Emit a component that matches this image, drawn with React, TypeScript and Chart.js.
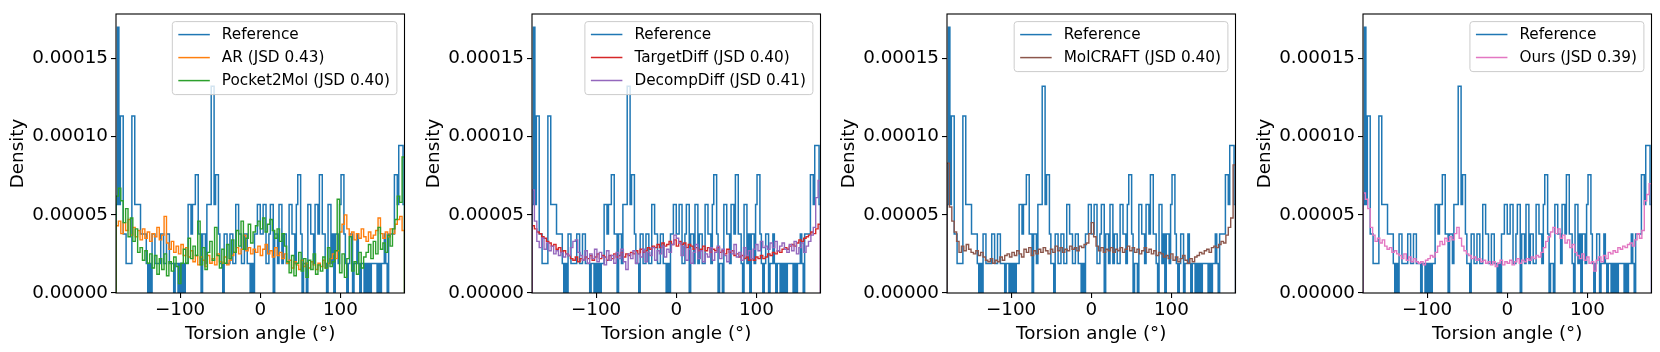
import React, { useEffect, useRef } from 'react';
import { Chart, registerables } from 'chart.js';

Chart.register(...registerables);

const FONT = "'DejaVu Sans', 'Liberation Sans', sans-serif";

// ---------- axes ----------
const xRange = [-180, 180];
const xTickValues = [-100, 0, 100];
const xTickLabels = ['\u2212100', '0', '100'];
// y values are stored in units of 1e-5 (density)
const yTickValues = [0, 5, 10, 15];
const yTickLabels = ['0.00000', '0.00005', '0.00010', '0.00015'];
const yMax = 17.85;
const xTitle = 'Torsion angle (\u00b0)';
const yTitle = 'Density';

// ---------- data (density x 1e-5) ----------
// Reference histogram, 200 bins over [-180, 180]
const referenceDensity = [
  5.67, 17.0, 5.67, 11.33, 11.33, 3.78, 3.78, 1.89, 1.89, 1.89,
  1.89, 11.33, 11.33, 5.67, 5.67, 5.67, 5.67, 3.78, 3.78, 3.78,
  3.78, 1.89, 0, 1.89, 0, 3.78, 3.78, 1.89, 1.89, 1.89,
  1.89, 3.78, 3.78, 1.89, 1.89, 3.78, 3.78, 1.89, 1.89, 1.89,
  0, 1.89, 1.89, 0, 1.89, 0, 1.89, 0, 1.89, 1.89,
  5.67, 5.67, 3.78, 5.67, 5.67, 7.56, 7.56, 3.78, 3.78, 0,
  3.78, 3.78, 1.89, 5.67, 5.67, 5.67, 13.22, 13.22, 5.67, 7.56,
  7.56, 3.78, 1.89, 1.89, 0, 3.78, 3.78, 1.89, 1.89, 3.78,
  3.78, 1.89, 1.89, 5.67, 5.67, 3.78, 3.78, 1.89, 1.89, 3.78,
  3.78, 1.89, 1.89, 0, 1.89, 0, 3.78, 3.78, 5.67, 5.67,
  3.78, 3.78, 5.67, 5.67, 1.89, 1.89, 3.78, 5.67, 5.67, 0,
  3.78, 3.78, 1.89, 5.67, 5.67, 1.89, 3.78, 3.78, 1.89, 1.89,
  5.67, 5.67, 3.78, 3.78, 1.89, 5.67, 7.56, 7.56, 3.78, 0,
  1.89, 1.89, 0, 5.67, 5.67, 3.78, 3.78, 1.89, 5.67, 5.67,
  3.78, 7.56, 7.56, 3.78, 3.78, 1.89, 0, 5.67, 5.67, 1.89,
  3.78, 0, 3.78, 3.78, 1.89, 5.67, 7.56, 7.56, 3.78, 1.89,
  0, 1.89, 3.78, 3.78, 0, 1.89, 1.89, 3.78, 1.89, 0,
  1.89, 1.89, 0, 1.89, 0, 1.89, 0, 1.89, 1.89, 1.89,
  1.89, 0, 1.89, 0, 1.89, 1.89, 3.78, 1.89, 0, 3.78,
  3.78, 3.78, 3.78, 7.56, 7.56, 5.67, 9.44, 9.44, 9.44, 5.67,
];

// Generated-molecule histograms, 120 bins over [-180, 180]
const arDensity = [
  4.3, 4.6, 3.8, 4.5, 4.0, 4.7, 3.7, 4.2, 3.6, 4.0,
  3.4, 4.1, 3.5, 3.9, 3.3, 3.8, 3.6, 4.2, 3.4, 3.7,
  4.9, 3.2, 2.8, 3.3, 2.6, 3.0, 2.5, 3.1, 2.4, 2.9,
  2.3, 2.7, 2.0, 2.4, 1.8, 2.3, 2.1, 1.7, 2.4, 1.9,
  2.2, 1.8, 2.5, 2.0, 1.9, 2.3, 1.8, 2.1, 2.4, 2.6,
  2.9, 2.5, 2.8, 3.7, 2.7, 2.9, 2.5, 2.8, 2.6, 3.0,
  2.4, 2.8, 3.1, 2.5, 2.7, 2.3, 2.9, 2.4, 2.6, 2.2,
  2.5, 1.9, 2.1, 1.6, 2.0, 1.8, 1.5, 2.1, 1.7, 1.9,
  1.6, 2.0, 1.8, 1.5, 1.9, 1.7, 2.1, 1.6, 1.9, 2.2,
  2.5, 2.2, 2.7, 3.9, 4.4, 5.0, 4.1, 3.7, 3.9, 3.4,
  3.8, 3.5, 4.1, 3.6, 3.3, 3.9, 3.5, 3.7, 4.0, 4.8,
  3.8, 3.5, 3.9, 3.6, 4.1, 3.8, 4.4, 4.7, 4.9, 4.0,
];

const pocket2molDensity = [
  6.2, 6.7, 5.9, 4.5, 5.4, 3.6, 4.8, 3.3, 4.1, 2.6,
  2.9, 2.1, 2.7, 1.9, 2.5, 1.6, 2.4, 1.2, 2.2, 1.5,
  2.5, 1.1, 2.0, 1.4, 2.3, 1.7, 0.6, 1.9, 2.8, 1.9,
  3.5, 2.2, 3.0, 2.4, 4.6, 1.8, 2.9, 1.5, 2.6, 3.3,
  2.1, 4.2, 2.4, 1.6, 2.8, 1.9, 3.1, 2.2, 3.4, 2.6,
  4.0, 3.0, 4.6, 2.8, 3.5, 4.4, 3.2, 3.9, 4.3, 4.6,
  4.1, 4.8, 3.9, 4.4, 4.7, 4.0, 3.5, 4.1, 3.3, 3.8,
  3.0, 2.0, 1.3, 2.4, 1.1, 1.9, 2.6, 1.4, 2.2, 1.0,
  2.1, 1.5, 2.5, 1.2, 1.8, 1.4, 2.3, 1.6, 2.9, 1.7,
  2.0, 2.7, 6.0, 1.3, 2.5, 1.0, 2.2, 3.6, 1.4, 2.0,
  1.2, 2.6, 1.6, 2.3, 2.6, 3.1, 2.2, 3.3, 2.5, 4.2,
  2.8, 3.2, 2.6, 3.7, 3.0, 4.1, 4.7, 6.2, 5.8, 8.7,
];

const targetDiffDensity = [
  4.3, 4.1, 3.9, 3.8, 3.6, 3.5, 3.3, 3.2, 3.0, 3.1,
  2.8, 2.9, 2.6, 2.7, 2.5, 2.4, 2.2, 2.1, 2.3, 2.0,
  2.2, 2.1, 2.3, 2.2, 2.4, 2.1, 2.3, 2.5, 2.2, 2.4,
  2.3, 2.1, 2.4, 2.2, 2.5, 2.3, 2.4, 2.6, 2.3, 2.5,
  2.4, 2.6, 2.5, 2.7, 2.5, 2.8, 2.6, 2.7, 2.9, 2.8,
  3.0, 2.9, 3.1, 2.9, 3.2, 3.0, 3.1, 3.3, 3.1, 3.4,
  3.0, 3.3, 3.1, 3.2, 2.9, 3.1, 3.0, 2.8, 2.9, 2.7,
  2.8, 3.0, 2.7, 2.9, 2.6, 2.8, 2.7, 2.9, 2.6, 2.7,
  2.5, 2.8, 2.6, 2.7, 2.4, 2.5, 2.3, 2.4, 2.2, 2.3,
  2.1, 2.2, 2.1, 2.3, 2.2, 2.4, 2.2, 2.3, 2.5, 2.4,
  2.6, 2.5, 2.7, 2.6, 2.8, 2.9, 2.8, 3.0, 3.1, 3.0,
  3.2, 3.4, 3.3, 3.5, 3.6, 3.7, 3.9, 3.8, 4.1, 4.4,
];

const decompDiffDensity = [
  6.6, 4.6, 3.3, 2.9, 3.5, 2.8, 3.2, 2.7, 3.0, 2.5,
  2.7, 2.4, 2.6, 2.3, 2.5, 2.4, 2.9, 3.3, 3.4, 2.6,
  2.4, 2.1, 2.7, 1.9, 2.5, 2.2, 2.8, 2.0, 2.6, 2.3,
  1.8, 2.7, 2.1, 2.4, 1.9, 2.6, 2.2, 2.8, 2.0, 1.5,
  2.5, 2.2, 2.7, 1.9, 2.5, 2.3, 2.8, 2.0, 2.6, 2.4,
  2.9, 2.1, 2.7, 2.5, 3.0, 2.3, 2.8, 2.6, 3.1, 3.7,
  3.5, 3.2, 2.4, 3.0, 2.1, 2.8, 1.9, 2.6, 3.1, 2.2,
  2.7, 2.0, 2.5, 2.3, 2.9, 2.1, 2.6, 3.0, 2.2, 2.8,
  2.4, 2.0, 2.7, 2.5, 3.1, 2.3, 2.6, 2.1, 2.9, 2.4,
  2.7, 2.2, 2.8, 3.1, 2.7, 3.3, 2.9, 3.0, 2.8, 3.2,
  2.9, 3.3, 2.7, 3.0, 3.2, 2.8, 2.6, 3.1, 2.7, 3.3,
  2.5, 2.9, 3.2, 2.6, 3.0, 3.3, 3.7, 4.2, 6.1, 7.2,
];

const molcraftDensity = [
  8.3, 5.5, 4.6, 3.9, 3.3, 2.6, 3.0, 2.7, 3.1, 2.8,
  2.6, 2.5, 2.7, 2.4, 2.6, 2.3, 2.1, 2.0, 2.2, 1.9,
  2.1, 2.0, 2.3, 2.1, 2.4, 2.5, 2.3, 2.6, 2.4, 2.7,
  2.5, 2.3, 2.8, 2.6, 2.9, 2.4, 2.7, 2.5, 2.8, 2.6,
  2.9, 2.7, 2.5, 2.8, 2.6, 3.0, 2.7, 2.9, 2.6, 2.8,
  2.7, 3.0, 2.8, 2.9, 2.7, 3.0, 2.9, 3.1, 3.2, 3.8,
  4.5, 3.6, 3.0, 2.7, 2.9, 2.6, 2.8, 2.7, 2.9, 2.6,
  2.8, 2.7, 2.9, 2.6, 2.8, 3.0, 2.7, 2.9, 2.6, 2.8,
  2.5, 2.7, 2.9, 2.6, 2.8, 2.5, 2.7, 2.4, 2.6, 2.5,
  2.3, 2.4, 2.2, 2.5, 2.1, 2.3, 2.0, 2.2, 2.4, 2.1,
  1.9, 2.2, 2.0, 2.3, 2.4, 2.6, 2.5, 2.7, 2.8, 2.6,
  2.9, 3.0, 2.9, 3.1, 3.3, 3.2, 3.7, 4.2, 4.8, 8.2,
];

const oursDensity = [
  6.4, 6.0, 5.4, 4.2, 3.7, 3.3, 3.5, 3.2, 3.4, 3.0,
  2.8, 2.9, 2.6, 2.7, 2.5, 2.4, 2.2, 2.5, 2.1, 2.3,
  2.0, 2.2, 2.0, 1.9, 2.0, 1.8, 2.1, 2.2, 2.4, 2.3,
  2.6, 3.0, 3.3, 3.1, 3.5, 3.3, 3.6, 3.4, 3.8, 4.2,
  3.5, 3.0, 2.7, 2.5, 2.4, 2.2, 2.3, 2.1, 2.2, 2.0,
  2.1, 1.9, 2.0, 1.8, 2.0, 1.7, 1.9, 2.1, 1.8, 2.0,
  1.9, 2.1, 1.8, 2.0, 2.2, 1.9, 2.1, 2.0, 2.2, 2.1,
  2.3, 2.2, 2.4, 2.3, 2.6, 2.9, 3.3, 3.6, 3.9, 4.2,
  3.8, 4.1, 3.5, 3.7, 3.2, 3.4, 2.9, 3.1, 2.6, 2.4,
  2.2, 2.5, 2.1, 2.3, 1.9, 2.0, 1.4, 2.1, 2.3, 2.0,
  2.4, 2.2, 2.6, 2.5, 2.7, 2.6, 2.9, 2.8, 3.0, 2.9,
  3.1, 3.2, 3.0, 3.4, 3.8, 3.5, 4.0, 5.9, 6.3, 7.0,
];

// ---------- series labels & colours ----------
const referenceLabel = 'Reference';
const referenceColor = '#1f77b4';

const panelSeries = [
  [
    { label: 'AR (JSD 0.43)', values: arDensity, color: '#ff7f0e' },
    { label: 'Pocket2Mol (JSD 0.40)', values: pocket2molDensity, color: '#2ca02c' },
  ],
  [
    { label: 'TargetDiff (JSD 0.40)', values: targetDiffDensity, color: '#d62728' },
    { label: 'DecompDiff (JSD 0.41)', values: decompDiffDensity, color: '#9467bd' },
  ],
  [{ label: 'MolCRAFT (JSD 0.40)', values: molcraftDensity, color: '#8c564b' }],
  [{ label: 'Ours (JSD 0.39)', values: oursDensity, color: '#e377c2' }],
];

// ---------- layout ----------
const CANVAS_W = 413;
const CANVAS_H = 352;
const panelLefts = [0, 416, 831, 1247];
const AXIS_LEFT = 116; // chart-area left within canvas
const PLOT_W = 288.5;
const PLOT_TOP = 9.3;
const PLOT_BOTTOM = 293;

function stepPoints(values: number[]) {
  const w = (xRange[1] - xRange[0]) / values.length;
  const pts: { x: number; y: number }[] = [{ x: xRange[0], y: 0 }];
  values.forEach((v, i) => pts.push({ x: xRange[0] + i * w, y: v }));
  pts.push({ x: xRange[1], y: values[values.length - 1] });
  pts.push({ x: xRange[1], y: 0 });
  return pts;
}

function Panel({ index }: { index: number }) {
  const ref = useRef<HTMLCanvasElement | null>(null);

  useEffect(() => {
    const canvas = ref.current;
    if (!canvas) return;
    const series = panelSeries[index];
    const legendEntries = [
      { label: referenceLabel, color: referenceColor },
      ...series.map((s) => ({ label: s.label, color: s.color })),
    ];

    const decor = {
      id: 'panelDecor',
      afterDatasetsDraw(chart: any) {
        const { ctx, chartArea: a } = chart;
        ctx.save();
        // frame
        ctx.strokeStyle = '#000';
        ctx.lineWidth = 1.1;
        ctx.strokeRect(a.left, a.top, a.right - a.left, a.bottom - a.top);

        // legend
        ctx.font = `15.28px ${FONT}`;
        const textW = Math.max(...legendEntries.map((e) => ctx.measureText(e.label).width));
        const w = 6 + 31.5 + 12 + textW + 7;
        const h = 23 * legendEntries.length + 4;
        const right = a.right - 7.6;
        const top = a.top + 7.6;
        const left = right - w;
        const r = 3;
        ctx.beginPath();
        ctx.moveTo(left + r, top);
        ctx.lineTo(right - r, top);
        ctx.quadraticCurveTo(right, top, right, top + r);
        ctx.lineTo(right, top + h - r);
        ctx.quadraticCurveTo(right, top + h, right - r, top + h);
        ctx.lineTo(left + r, top + h);
        ctx.quadraticCurveTo(left, top + h, left, top + h - r);
        ctx.lineTo(left, top + r);
        ctx.quadraticCurveTo(left, top, left + r, top);
        ctx.closePath();
        ctx.fillStyle = 'rgba(255,255,255,0.8)';
        ctx.fill();
        ctx.strokeStyle = '#cccccc';
        ctx.lineWidth = 1;
        ctx.stroke();
        legendEntries.forEach((e, i) => {
          const cy = top + 13 + 23 * i;
          ctx.strokeStyle = e.color;
          ctx.lineWidth = 1.5;
          ctx.beginPath();
          ctx.moveTo(left + 6, cy);
          ctx.lineTo(left + 37.5, cy);
          ctx.stroke();
          ctx.fillStyle = '#000';
          ctx.textAlign = 'left';
          ctx.textBaseline = 'middle';
          ctx.fillText(e.label, left + 49.5, cy);
        });

        // axis titles
        ctx.fillStyle = '#000';
        ctx.font = `18.33px ${FONT}`;
        ctx.textAlign = 'center';
        ctx.textBaseline = 'alphabetic';
        ctx.fillText(xTitle, (a.left + a.right) / 2, 338.5);
        ctx.translate(a.left - 92.6, (a.top + a.bottom) / 2);
        ctx.rotate(-Math.PI / 2);
        ctx.fillText(yTitle, 0, 0);
        ctx.restore();
      },
    };

    const datasets: any[] = [
      ...series.map((s, i) => ({
        label: s.label,
        data: stepPoints(s.values),
        borderColor: s.color,
        borderWidth: 1.4,
        stepped: 'before',
        pointRadius: 0,
        fill: false,
        order: series.length - 1 - i,
      })),
      {
        label: referenceLabel,
        data: stepPoints(referenceDensity),
        borderColor: referenceColor,
        borderWidth: 1.5,
        stepped: 'before',
        pointRadius: 0,
        fill: false,
        order: series.length + 1,
      },
    ];

    const chart = new Chart(canvas, {
      type: 'line',
      data: { datasets },
      options: {
        animation: false,
        responsive: false,
        devicePixelRatio: 1,
        layout: {
          autoPadding: false,
          padding: {
            left: 0,
            right: CANVAS_W - AXIS_LEFT - PLOT_W,
            top: PLOT_TOP,
            bottom: 0,
          },
        },
        plugins: {
          legend: { display: false },
          tooltip: { enabled: false },
        },
        scales: {
          x: {
            type: 'linear',
            min: xRange[0],
            max: xRange[1],
            afterBuildTicks: (scale: any) => {
              scale.ticks = xTickValues.map((v) => ({ value: v }));
            },
            afterFit: (scale: any) => {
              scale.height = CANVAS_H - PLOT_BOTTOM;
            },
            grid: {
              drawOnChartArea: false,
              drawTicks: true,
              tickLength: 5,
              color: '#000',
              lineWidth: 1.1,
            },
            border: { display: false },
            ticks: {
              autoSkip: false,
              maxRotation: 0,
              padding: 1,
              color: '#000',
              font: { family: FONT, size: 18.33 },
              callback: (_v: any, i: number) => xTickLabels[i],
            },
          },
          y: {
            type: 'linear',
            min: 0,
            max: yMax,
            afterBuildTicks: (scale: any) => {
              scale.ticks = yTickValues.map((v) => ({ value: v }));
            },
            afterFit: (scale: any) => {
              scale.width = AXIS_LEFT;
            },
            grid: {
              drawOnChartArea: false,
              drawTicks: true,
              tickLength: 5,
              color: '#000',
              lineWidth: 1.1,
            },
            border: { display: false },
            ticks: {
              padding: 3,
              color: '#000',
              font: { family: FONT, size: 18.33 },
              callback: (_v: any, i: number) => yTickLabels[i],
            },
          },
        },
      },
      plugins: [decor],
    });

    return () => chart.destroy();
  }, [index]);

  return (
    <canvas
      ref={ref}
      width={CANVAS_W}
      height={CANVAS_H}
      style={{
        position: 'absolute',
        left: panelLefts[index],
        top: 0,
        width: CANVAS_W,
        height: CANVAS_H,
        display: 'block',
      }}
    />
  );
}

export default function App() {
  return (
    <div
      style={{
        position: 'fixed',
        left: 0,
        top: 0,
        width: 1660,
        height: 352,
        background: '#ffffff',
        overflow: 'hidden',
      }}
    >
      {panelSeries.map((_, i) => (
        <Panel key={i} index={i} />
      ))}
    </div>
  );
}
